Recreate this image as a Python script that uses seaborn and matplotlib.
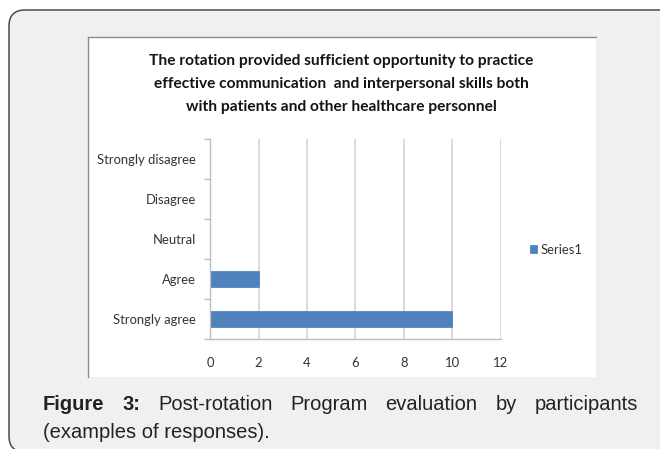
import matplotlib
matplotlib.use('Agg')
import matplotlib.pyplot as plt
import seaborn as sns
import pandas as pd
from matplotlib.patches import FancyBboxPatch, Rectangle
from matplotlib.lines import Line2D

# ---- data ----
categories = ['Strongly disagree', 'Disagree', 'Neutral', 'Agree', 'Strongly agree']
counts = [0, 0, 0, 2, 10]
x_ticks = [0, 2, 4, 6, 8, 10, 12]
series_name = 'Series1'
title_lines = [
    "The rotation provided sufficient opportunity to practice",
    "effective communication  and interpersonal skills both",
    "with patients and other healthcare personnel",
]
caption_bold = ['Figure', '3:']
caption_words = ['Post-rotation', 'Program', 'evaluation', 'by', 'participants']
caption_line2 = '(examples of responses).'

W, H = 660, 449
BAR = '#4f81bd'

sns.set_theme(style='white')
plt.rcParams['font.family'] = ['Lato', 'DejaVu Sans']

fig = plt.figure(figsize=(W / 100, H / 100), dpi=100)
fig.patch.set_facecolor('white')


def fx(px):
    return px / W


def fy(py):
    return 1 - py / H


# outer rounded box (in inches so the corner stays round)
outer = FancyBboxPatch((0.09, (H - 452) / 100), 7.0, 4.42,
                       boxstyle='round,pad=0,rounding_size=0.16',
                       transform=fig.dpi_scale_trans, facecolor='#eff0f2',
                       edgecolor='#4a4a4a', linewidth=1.1, zorder=0)
fig.patches.append(outer)

# white chart panel
panel = Rectangle((fx(88), fy(377)), fx(596) - fx(88), fy(37) - fy(377),
                  transform=fig.transFigure, facecolor='white', edgecolor='none', zorder=1)
fig.patches.append(panel)
fig.lines.append(Line2D([fx(88), fx(88)], [fy(377), fy(37)], transform=fig.transFigure,
                        color='#8a8a8a', lw=1.0, zorder=2))
fig.lines.append(Line2D([fx(88), fx(596)], [fy(37), fy(37)], transform=fig.transFigure,
                        color='#8a8a8a', lw=1.0, zorder=2))

# title
for i, line in enumerate(title_lines):
    fig.text(fx(341), fy(61 + 23 * i), line, ha='center', va='center',
             fontsize=11.2, fontweight='bold', color='#141414', zorder=3)

# ---- bar chart ----
ax = fig.add_axes([fx(210), fy(339), fx(501) - fx(210), (339 - 139) / H])
ax.set_zorder(3)
ax.patch.set_alpha(0)
df = pd.DataFrame({'response': categories, 'count': counts})
sns.barplot(data=df, x='count', y='response', order=categories, orient='h',
            color=BAR, saturation=1, width=0.4, linewidth=0.5, edgecolor='#4a7bb6',
            label=series_name, ax=ax)

ax.set_xlim(0, 12)
ax.set_ylim(4.5, -0.5)
ax.set_xticks(x_ticks)
ax.set_xlabel('')
ax.set_ylabel('')
ax.xaxis.grid(True, color='#d4d4d4', lw=1.2)
ax.yaxis.grid(False)
ax.set_axisbelow(True)
for side in ['top', 'right']:
    ax.spines[side].set_visible(False)
for side in ['left', 'bottom']:
    ax.spines[side].set_color('#bdbdbd')
    ax.spines[side].set_linewidth(1.0)

ax.set_yticks(range(len(categories)))
ax.set_yticklabels(categories)
ax.set_yticks([i - 0.5 for i in range(len(categories) + 1)], minor=True)
ax.tick_params(axis='y', which='major', length=0, pad=10, labelsize=9.4, labelcolor='#333333')
ax.tick_params(axis='y', which='minor', length=4, direction='out', color='#bdbdbd', width=1)
ax.tick_params(axis='x', which='major', length=5, direction='out', color='#bdbdbd', width=1,
               pad=8, labelsize=9.4, labelcolor='#333333')
ax.tick_params(left=False, which='major')
ax.tick_params(axis='y', which='minor', left=True)

leg = ax.legend(loc='center left', bbox_to_anchor=(fx(523), fy(250)),
                bbox_transform=fig.transFigure, frameon=False, fontsize=9.4,
                handlelength=0.55, handleheight=0.55, handletextpad=0.3, borderpad=0)
for t in leg.get_texts():
    t.set_color('#333333')

# ---- caption (justified first line) ----
cap_font = dict(family=['Liberation Sans', 'DejaVu Sans'], fontsize=14.5, color='#222222')
fig.canvas.draw()
renderer = fig.canvas.get_renderer()
left_px, right_px, y1 = 43, 638, 405
words = [(w, 'bold') for w in caption_bold] + [(w, 'normal') for w in caption_words]
items = []
total = 0
for w, weight in words:
    t = fig.text(0, 0, w, fontweight=weight, va='center', zorder=5, **cap_font)
    wpx = t.get_window_extent(renderer).width
    items.append((t, wpx))
    total += wpx
gap = (right_px - left_px - total) / (len(items) - 1)
x = left_px
for t, wpx in items:
    t.set_position((fx(x), fy(y1)))
    x += wpx + gap
fig.text(fx(left_px), fy(y1 + 28), caption_line2, va='center', zorder=5, **cap_font)

fig.savefig('out.png', dpi=100)
